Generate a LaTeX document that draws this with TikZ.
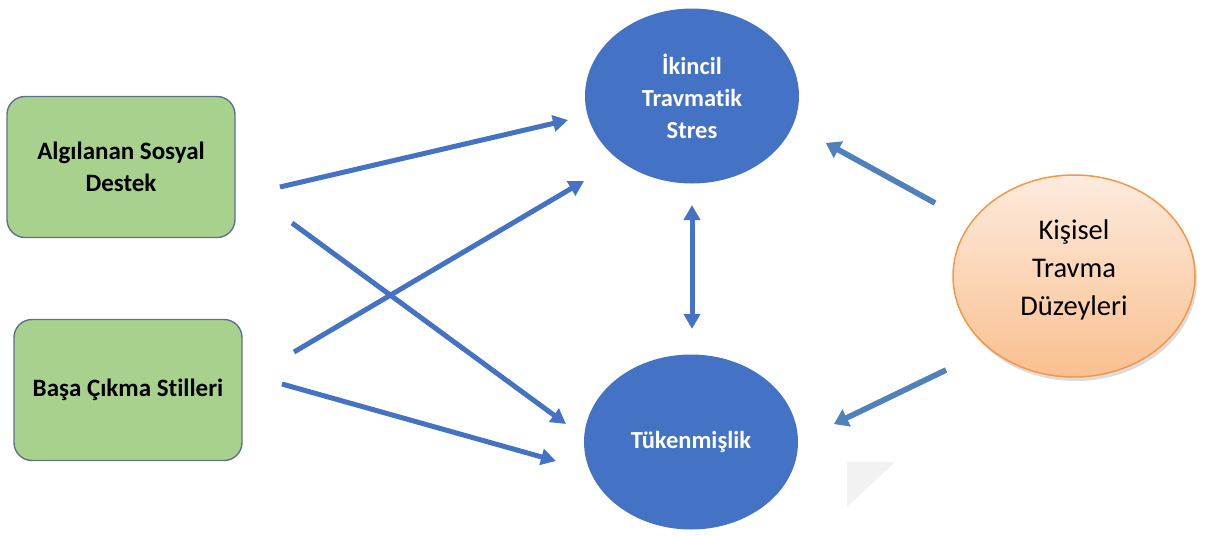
\documentclass[tikz,border=0pt]{standalone}
\usepackage{fontspec}
\setmainfont[Ligatures=NoCommon]{Carlito}
\usepackage{xcolor}
\usetikzlibrary{arrows.meta,shapes,shadows,positioning}
\definecolor{kutuyesil}{HTML}{A9D18E}
\definecolor{kutukenar}{HTML}{5E7388}
\definecolor{dairemavi}{HTML}{4472C4}
\definecolor{okmavi}{HTML}{4F81BD}
\definecolor{turuncu}{HTML}{F79646}
\definecolor{turuncuust}{HTML}{FDEBDD}
\definecolor{turuncualt}{HTML}{FAC08F}

\begin{document}
\begin{tikzpicture}[x=1pt,y=-1pt,
  kutu/.style={draw=kutukenar, line width=1.4pt, fill=kutuyesil, rounded corners=18pt,
    minimum width=228pt, minimum height=141pt, align=center,
    font=\fontsize{25}{32}\selectfont\bfseries},
  daire/.style={ellipse, fill=dairemavi, text=white, inner sep=0pt,
    minimum width=214pt, minimum height=175pt, align=center,
    font=\fontsize{24.5}{32}\selectfont\bfseries},
  ok/.style={draw=dairemavi, line width=5pt, -{Triangle[length=15pt,width=16pt]}},
  golgeok/.style={line width=5.5pt, -{Triangle[length=14pt,width=18pt]}}]
\useasboundingbox (0,0) rectangle (1213,536);

% kutular
\node[kutu] (destek) at (121,167) {Algılanan Sosyal\\Destek};
\node[kutu] (basa) at (128,390) {Başa Çıkma Stilleri};

% daireler
\node[daire] (ikincil) at (692,96) {İkincil\\Travmatik\\Stres};
\node[daire] (tuken) at (691,442) {Tükenmişlik};
\node[ellipse, draw=turuncu, line width=1.5pt, top color=turuncuust, bottom color=turuncualt,
  drop shadow={shadow xshift=2pt, shadow yshift=-4pt, fill=gray!55},
  minimum width=242pt, minimum height=202pt, inner sep=0pt] (kisisel) at (1074,276) {};
\node[align=center, font=\fontsize{28.5}{38}\selectfont] (kisiselyazi) at (1074,270)
  {Kişisel\\Travma\\Düzeyleri};

% ok uclari
\coordinate (a1) at (280,187); \coordinate (b1) at (568,120);
\coordinate (a2) at (292,223); \coordinate (b2) at (566,424);
\coordinate (a3) at (294,352); \coordinate (b3) at (584,181);
\coordinate (a4) at (282,384); \coordinate (b4) at (556,461);
\coordinate (c1) at (692,205); \coordinate (c2) at (692,329);
\coordinate (d1) at (935,203); \coordinate (e1) at (826,143);
\coordinate (d2) at (946,370); \coordinate (e2) at (834,424);

\draw[ok] (a1) -- (b1);
\draw[ok] (a2) -- (b2);
\draw[ok] (a3) -- (b3);
\draw[ok] (a4) -- (b4);
\draw[draw=dairemavi, line width=5pt, {Triangle[length=15pt,width=16pt]}-{Triangle[length=15pt,width=16pt]}] (c1) -- (c2);

\begin{scope}[shift={(2,3)}]
\draw[golgeok, draw=gray!60] (d1) -- (e1);
\draw[golgeok, draw=gray!60] (d2) -- (e2);
\end{scope}
\draw[golgeok, draw=okmavi] (d1) -- (e1);
\draw[golgeok, draw=okmavi] (d2) -- (e2);

\fill[gray!10] (847,462) -- (895,462) -- (847,507) -- cycle;
\end{tikzpicture}
\end{document}
